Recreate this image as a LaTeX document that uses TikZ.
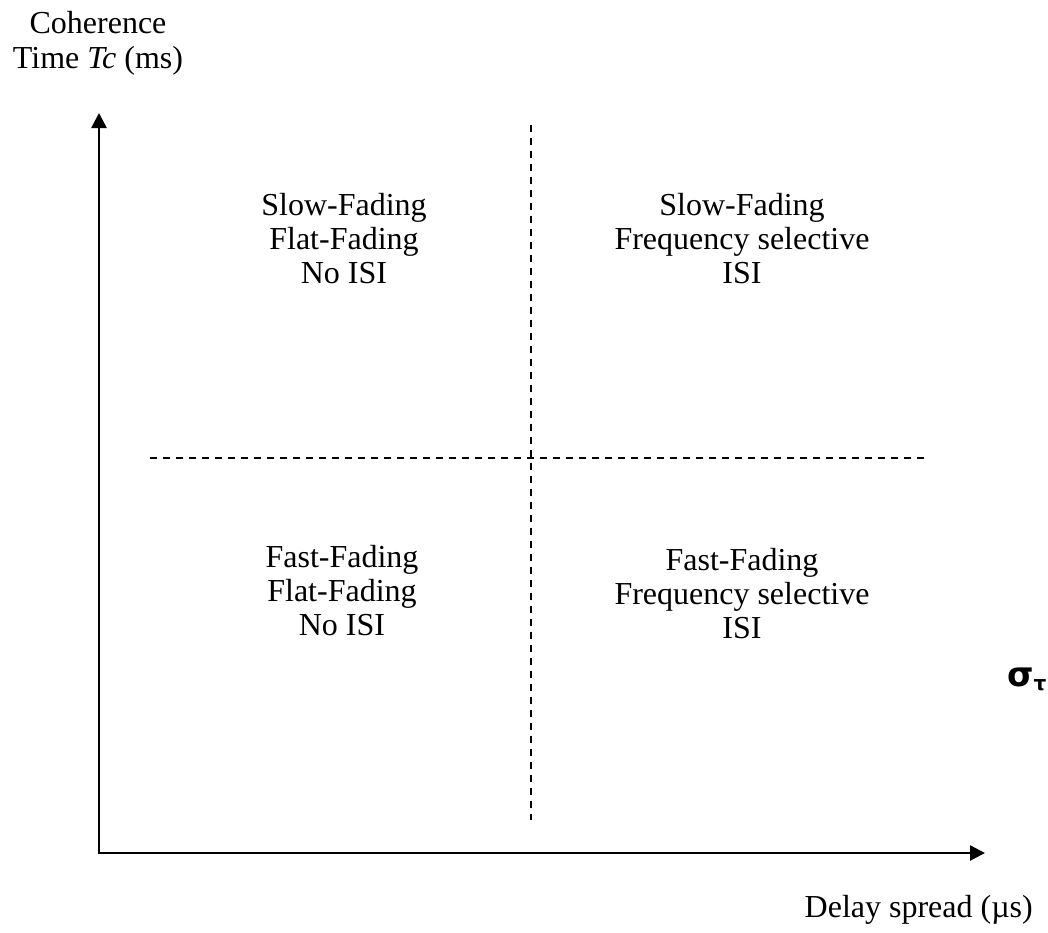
\documentclass[tikz,border=0pt]{standalone}
\usepackage{fontspec}
\setmainfont{Liberation Serif}
\newfontfamily\symbfont{DejaVu Sans}
\usetikzlibrary{arrows.meta}
\begin{document}
\begin{tikzpicture}[x=1pt,y=-1pt,
  axis/.style={line width=2.6pt, -{Triangle[length=15pt,width=15pt]}},
  divider/.style={line width=1.3pt, dash pattern=on 7pt off 6pt},
  region/.style={align=center, inner sep=0pt, font=\fontsize{32}{34}\selectfont},
  axislabel/.style={align=center, inner sep=0pt, font=\fontsize{32}{35}\selectfont}]
\useasboundingbox (0,0) rectangle (1048,932);

% axes
\coordinate (O) at (99,853);
\coordinate (ytop) at (99,113);
\coordinate (xend) at (985,853);
\draw[axis] ([yshift=-1.3pt]O) -- (ytop);
\draw[axis] ([xshift=-1.3pt]O) -- (xend);

% quadrant dividers
\coordinate (vtop) at (531,125);
\coordinate (vbot) at (531,820);
\coordinate (hleft) at (150,458);
\coordinate (hright) at (930,458);
\draw[divider] (vtop) -- (vbot);
\draw[divider] (hleft) -- (hright);

% axis labels
\node[axislabel] (ylab) at (98,43) {Coherence\\Time \textit{Tc} (ms)};
\node[axislabel, anchor=base east] (xlab) at (1033,917) {Delay spread (µs)};
\node[anchor=base west, inner sep=0pt, font=\symbfont\bfseries\fontsize{34}{34}\selectfont] (sigma) at (1007,686)
  {σ\raisebox{-4pt}{\fontsize{20}{20}\selectfont τ}};

% quadrant labels
\node[region] (tl) at (344,239) {Slow-Fading\\Flat-Fading\\No ISI};
\node[region] (tr) at (742,239) {Slow-Fading\\Frequency selective\\ISI};
\node[region] (bl) at (342,591) {Fast-Fading\\Flat-Fading\\No ISI};
\node[region] (br) at (742,594) {Fast-Fading\\Frequency selective\\ISI};
\end{tikzpicture}
\end{document}
